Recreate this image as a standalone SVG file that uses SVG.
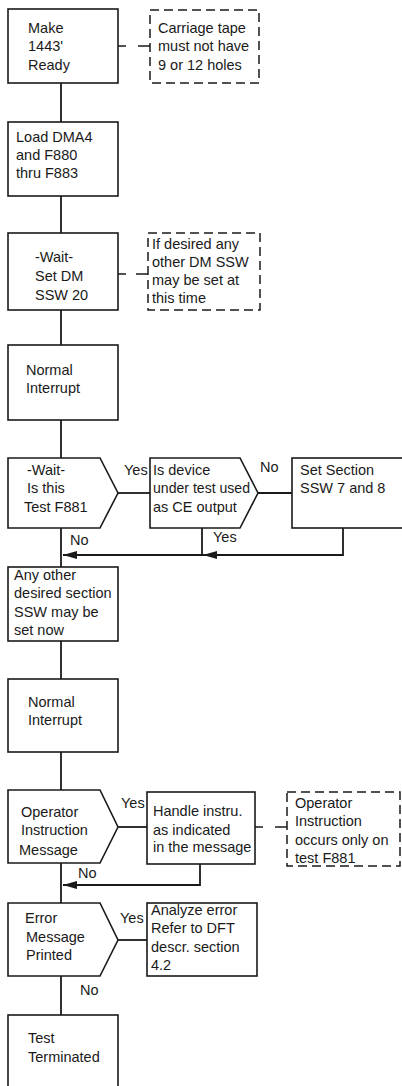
<svg xmlns="http://www.w3.org/2000/svg" width="402" height="1086" viewBox="0 0 402 1086">
<style>
  text { font-family: "Liberation Sans", Arial, sans-serif; font-size: 14.5px; fill: #1a1a1a; }
  .box { fill: #fff; stroke: #1a1a1a; stroke-width: 1.6; }
  .note { fill: #fff; stroke: #1a1a1a; stroke-width: 1.5; stroke-dasharray: 9 5; }
  .ln { fill: none; stroke: #1a1a1a; stroke-width: 1.8; }
  .dl { fill: none; stroke: #1a1a1a; stroke-width: 1.6; }
</style>
<defs>
  <marker id="arr" markerUnits="userSpaceOnUse" markerWidth="14" markerHeight="8" refX="14" refY="4" orient="auto">
    <path d="M0,0 L14,4 L0,8 z" fill="#1a1a1a"/>
  </marker>
</defs>
<rect width="402" height="1086" fill="#fff"/>

<g id="connectors">
  <line class="ln" x1="61" y1="83" x2="61" y2="122"/>
  <line class="ln" x1="61" y1="196" x2="61" y2="233"/>
  <line class="ln" x1="61" y1="310" x2="61" y2="345"/>
  <line class="ln" x1="61" y1="420" x2="61" y2="458"/>
  <line class="ln" x1="61" y1="528" x2="61" y2="567"/>
  <line class="ln" x1="61" y1="641" x2="61" y2="679"/>
  <line class="ln" x1="61" y1="752" x2="61" y2="790"/>
  <line class="ln" x1="61" y1="863" x2="61" y2="903"/>
  <line class="ln" x1="61" y1="976" x2="61" y2="1015"/>
  <path class="dl" d="M118,46 H126 M138,46 H150"/>
  <path class="dl" d="M118,274 H126 M136,274 H148"/>
  <path class="dl" d="M255,827 H263 M275,827 H287"/>
  <line class="ln" x1="118" y1="493" x2="150" y2="493"/>
  <line class="ln" x1="258" y1="493" x2="292" y2="493"/>
  <polyline class="ln" points="343,528 343,555 203,555" marker-end="url(#arr)"/>
  <line class="ln" x1="203" y1="555" x2="63" y2="555" marker-end="url(#arr)"/>
  <line class="ln" x1="202" y1="528" x2="202" y2="555"/>
  <text x="124" y="475">Yes</text>
  <text x="260" y="472">No</text>
  <text x="213" y="542">Yes</text>
  <text x="70" y="545">No</text>
  <line class="ln" x1="118" y1="827" x2="147" y2="827"/>
  <polyline class="ln" points="200,864 200,885 63,885" marker-end="url(#arr)"/>
  <text x="121" y="808">Yes</text>
  <text x="78" y="878">No</text>
  <line class="ln" x1="118" y1="940" x2="147" y2="940"/>
  <text x="120" y="923">Yes</text>
  <text x="80" y="995">No</text>
</g>

<g id="n1">
  <rect class="box" x="8" y="9" width="110" height="74"/>
  <text x="28" y="33">Make</text>
  <text x="28" y="51">1443'</text>
  <text x="28" y="70">Ready</text>
</g>
<g id="n2">
  <rect class="note" x="150" y="10" width="109" height="73"/>
  <text x="158" y="33">Carriage tape</text>
  <text x="158" y="51">must not have</text>
  <text x="158" y="70">9 or 12 holes</text>
</g>
<g id="n3">
  <rect class="box" x="8" y="122" width="110" height="74"/>
  <text x="16" y="142">Load DMA4</text>
  <text x="16" y="160">and F880</text>
  <text x="16" y="178">thru F883</text>
</g>
<g id="n4">
  <rect class="box" x="8" y="233" width="110" height="77"/>
  <text x="35" y="262">-Wait-</text>
  <text x="35" y="281">Set DM</text>
  <text x="35" y="300">SSW 20</text>
</g>
<g id="n5">
  <rect class="note" x="148" y="233" width="112" height="77"/>
  <text x="152" y="249">If desired any</text>
  <text x="152" y="267">other DM SSW</text>
  <text x="152" y="285">may be set at</text>
  <text x="152" y="303">this time</text>
</g>
<g id="n6">
  <rect class="box" x="8" y="345" width="110" height="75"/>
  <text x="26" y="375">Normal</text>
  <text x="26" y="393">Interrupt</text>
</g>
<g id="d1">
  <polygon class="box" points="8,458 100,458 118,493 100,528 8,528"/>
  <text x="27" y="475">-Wait-</text>
  <text x="27" y="493">Is this</text>
  <text x="24" y="512">Test F881</text>
</g>
<g id="d2">
  <polygon class="box" points="150,458 240,458 258,493 240,528 150,528"/>
  <text x="153" y="475">Is device</text>
  <text x="153" y="493" textLength="97" lengthAdjust="spacingAndGlyphs">under test used</text>
  <text x="153" y="512">as CE output</text>
</g>
<g id="n7">
  <rect class="box" x="292" y="458" width="112" height="70"/>
  <text x="300" y="475">Set Section</text>
  <text x="300" y="493">SSW 7 and 8</text>
</g>
<g id="n8">
  <rect class="box" x="8" y="567" width="110" height="74"/>
  <text x="14" y="580">Any other</text>
  <text x="14" y="598">desired section</text>
  <text x="14" y="617">SSW may be</text>
  <text x="14" y="635">set now</text>
</g>
<g id="n9">
  <rect class="box" x="8" y="679" width="110" height="73"/>
  <text x="28" y="707">Normal</text>
  <text x="28" y="725">Interrupt</text>
</g>
<g id="d3">
  <polygon class="box" points="8,790 100,790 118,827 100,863 8,863"/>
  <text x="21" y="817">Operator</text>
  <text x="21" y="835">Instruction</text>
  <text x="19" y="855">Message</text>
</g>
<g id="n10">
  <rect class="box" x="147" y="792" width="108" height="72"/>
  <text x="153" y="816">Handle instru.</text>
  <text x="153" y="835">as indicated</text>
  <text x="153" y="852">in the message</text>
</g>
<g id="n11">
  <rect class="note" x="287" y="792" width="113" height="74"/>
  <text x="295" y="808">Operator</text>
  <text x="295" y="826">Instruction</text>
  <text x="295" y="845">occurs only on</text>
  <text x="295" y="863">test F881</text>
</g>
<g id="d4">
  <polygon class="box" points="8,903 100,903 118,940 100,976 8,976"/>
  <text x="25" y="923">Error</text>
  <text x="26" y="942">Message</text>
  <text x="26" y="960">Printed</text>
</g>
<g id="n12">
  <rect class="box" x="147" y="903" width="110" height="73"/>
  <text x="151" y="915">Analyze error</text>
  <text x="151" y="933">Refer to DFT</text>
  <text x="151" y="952">descr. section</text>
  <text x="151" y="970">4.2</text>
</g>
<g id="n13">
  <rect class="box" x="8" y="1015" width="110" height="80"/>
  <text x="28" y="1043">Test</text>
  <text x="28" y="1062">Terminated</text>
</g>
</svg>
